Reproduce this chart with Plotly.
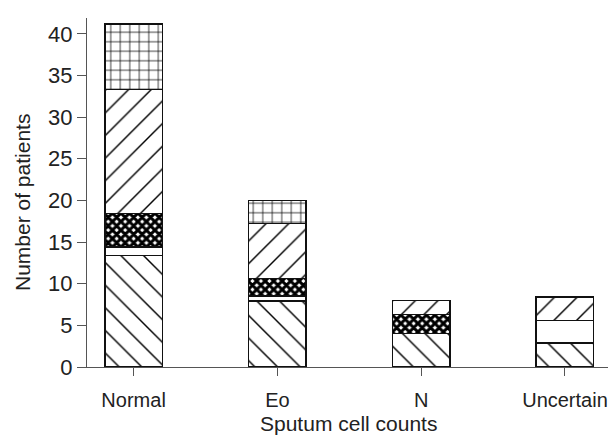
import plotly.graph_objects as go

categories = ["Normal", "Eo", "N", "Uncertain"]
seg_back = [13.4, 7.9, 4.0, 2.9]      # \\\ hatch
seg_white = [1.0, 0.6, 0.0, 2.7]      # plain
seg_weave = [4.0, 2.1, 2.3, 0.0]      # dense cross-weave
seg_fwd = [14.9, 6.6, 1.7, 2.8]       # /// hatch
seg_grid = [7.9, 2.8, 0.0, 0.0]       # grid
y_ticks = [0, 5, 10, 15, 20, 25, 30, 35, 40]

line = dict(color="#111111", width=1.5)
W = 0.40
PW = 525  # plot width in px
PH = 349  # plot height in px

fig = go.Figure()
specs = [
    (seg_back, dict(shape="\\", size=16, solidity=0.09, fgcolor="#000000", fgopacity=1, bgcolor="white")),
    (seg_white, dict(shape="", fgcolor="#000000", bgcolor="white")),
    (seg_weave, dict(shape="x", size=6, solidity=0.75, fgcolor="#000000", fgopacity=1, bgcolor="white")),
    (seg_fwd, dict(shape="/", size=16, solidity=0.09, fgcolor="#000000", fgopacity=1, bgcolor="white")),
    (seg_grid, dict(shape="+", size=9.5, solidity=0.15, fgcolor="#000000", fgopacity=1, bgcolor="white")),
]
for vals, pat in specs:
    fig.add_trace(go.Bar(
        x=categories, y=vals, width=W,
        marker=dict(color="white", line=line, pattern=pat),
        showlegend=False, hoverinfo="skip",
    ))

fig.update_layout(
    barmode="stack",
    width=604, height=427,
    margin=dict(l=79, r=0, t=10, b=68),
    plot_bgcolor="white", paper_bgcolor="white",
    font=dict(family="Liberation Sans, Arial, sans-serif", size=21, color="#222222"),
    xaxis=dict(
        range=[-0.324, 3.327],
        showline=True, linecolor="#555555", linewidth=1.2,
        ticks="outside", ticklen=8, tickcolor="#555555",
        tickfont=dict(size=20), ticklabelstandoff=7,
        showgrid=False, zeroline=False,
    ),
    yaxis=dict(
        range=[0, 41.9],
        tickvals=y_ticks,
        showline=True, linecolor="#555555", linewidth=1.2,
        ticks="outside", ticklen=9, tickcolor="#555555",
        tickfont=dict(size=22),
        showgrid=False, zeroline=False,
    ),
    annotations=[
        dict(text="Sputum cell counts", xref="paper", yref="paper",
             x=(348 - 87) / PW, y=-(424 - 367) / PH, showarrow=False,
             xanchor="center", yanchor="middle", font=dict(size=21)),
        dict(text="Number of patients", xref="paper", yref="paper",
             x=-(87 - 22) / PW, y=(367 - 203) / PH, showarrow=False, textangle=-90,
             xanchor="center", yanchor="middle", font=dict(size=21)),
    ],
)

fig.write_html("out.html")
